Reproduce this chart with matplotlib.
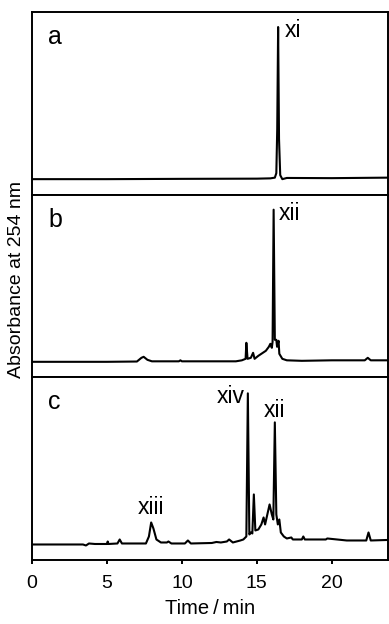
import matplotlib
matplotlib.use('Agg')
from matplotlib import pyplot as plt

plt.rcParams['font.family'] = ['Liberation Sans', 'DejaVu Sans']

# Trace a (absorbance, arbitrary units above baseline)
time_a = [0, 5, 10, 15.0, 15.9, 16.2, 16.3, 16.36, 16.42, 16.48, 16.56, 16.7, 17.0, 20, 23.7]
abs_a = [0, 0, 0.3, 0.5, 0.8, 1.5, 6, 50, 152, 40, 4, 0, 1.2, 1, 1.5]

# Trace b
time_b = [0, 5, 7.0, 7.3, 7.45, 7.7, 8.0, 9.8, 9.9, 10.0, 13.6, 14.0, 14.25, 14.3,
          14.38, 14.6, 14.75, 14.85, 15.1, 15.4, 15.6, 15.8, 15.9, 16.0, 16.05, 16.12,
          16.2, 16.3, 16.35, 16.45, 16.5, 16.7, 17.0, 18.0, 20.0, 22.2, 22.4, 22.6, 23.7]
abs_b = [0, 0, 0.3, 4, 5, 2, 0.5, 0.5, 1.5, 0.5, 0.5, 1.5, 3, 19,
         3, 4, 9, 3, 6, 9, 11, 15, 18, 14, 20, 152,
         22, 22, 15, 21, 8, 3, 1.5, 1, 1.5, 1.5, 4, 1.5, 1.5]

# Trace c
time_c = [0, 3.4, 3.6, 3.8, 4.2, 5.0, 5.05, 5.1, 5.7, 5.85, 6.0, 7.6, 7.8, 7.95, 8.1,
          8.3, 8.6, 9.0, 9.1, 9.3, 10.2, 10.4, 10.6, 12.0, 12.3, 12.6, 13.0, 13.15, 13.4,
          13.9, 14.1, 14.3, 14.4, 14.5, 14.6, 14.7, 14.8, 14.9, 15.1, 15.3, 15.45, 15.55,
          15.7, 15.85, 16.0, 16.1, 16.2, 16.3, 16.4, 16.5, 16.6, 16.8, 17.0, 17.3, 17.4,
          18.0, 18.1, 18.2, 19.6, 19.7, 21.0, 22.3, 22.45, 22.6, 23.7]
abs_c = [0, 0, -1, 1, 0.5, 0.5, 3, 0.5, 1, 5, 1, 1, 8, 22, 16,
         5, 2, 2, 3, 1, 1, 4, 1, 1.5, 2.5, 2, 3, 5, 2,
         4, 5, 8, 151, 10, 12, 11, 50, 14, 15, 20, 27, 20,
         30, 40, 30, 25, 122, 30, 20, 25, 12, 8, 6, 7, 5,
         5, 8, 5, 5, 6, 4, 4, 12, 4, 4.5]

times = [time_a, time_b, time_c]
values = [abs_a, abs_b, abs_c]
panel_names = ['a', 'b', 'c']

# Peak labels: (panel, text, time, height, horizontal alignment)
peak_labels = [
    (0, 'xi', 16.87, 142, 'left'),
    (1, 'xii', 16.47, 142, 'left'),
    (2, 'xiv', 14.2, 141, 'right'),
    (2, 'xii', 16.17, 127, 'center'),
    (2, 'xiii', 7.95, 30, 'center'),
]

x_ticks = [0, 5, 10, 15, 20]

fig, axes = plt.subplots(3, 1, figsize=(3.89, 6.24), dpi=100, sharex=True)
fig.subplots_adjust(left=32/389, right=388/389, top=1 - 12/624, bottom=1 - 560/624, hspace=0)

for i, axis in enumerate(axes):
    axis.plot(times[i], values[i], color='black', linewidth=1.5)
    axis.set_xlim(0, 23.75)
    axis.set_ylim(-15.5, 167)
    for spine in axis.spines.values():
        spine.set_linewidth(1.4)
    axis.set_yticks([])
    axis.text(0.045, 0.825, panel_names[i], transform=axis.transAxes,
              fontsize=18, ha='left', va='baseline')
    if i < 2:
        axis.tick_params(axis='x', bottom=False, labelbottom=False)

for panel, label, t, h, ha in peak_labels:
    axes[panel].text(t, h, label, fontsize=16.5, ha=ha, va='baseline')

axes[2].set_xticks(x_ticks)
axes[2].tick_params(axis='x', direction='out', length=3, width=1.4, labelsize=14, pad=8)
axes[2].set_xlabel('Time\u2009/\u2009min', fontsize=14.5, labelpad=5)

fig.text(17/389, 1 - 280/624, 'Absorbance at 254 nm', rotation=90,
         fontsize=14, ha='center', va='center')

plt.savefig('out.png', dpi=100)
